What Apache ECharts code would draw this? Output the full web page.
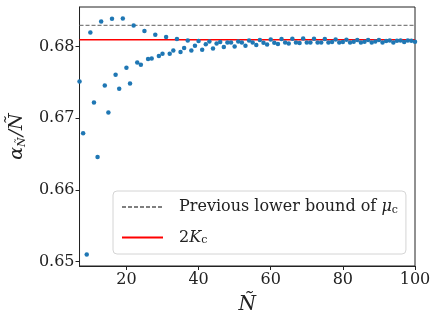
<!DOCTYPE html>
<html>
<head>
<meta charset="utf-8">
<script src="https://cdn.jsdelivr.net/npm/echarts@6/dist/echarts.min.js"></script>
<style>
  html, body { margin: 0; padding: 0; background: #fff; }
  #chart { width: 436px; height: 320px; }
</style>
</head>
<body>
<div id="chart"></div>
<script>
// N~ values 7..100 and the ratio alpha/N
const nValues = [];
for (let n = 7; n <= 100; n++) nValues.push(n);

const ratios = [
  0.6751, 0.6679, 0.6510, 0.68195, 0.6722, 0.6646, 0.68349, 0.67456, 0.6708, 0.68386,
  0.67605, 0.6741, 0.68391, 0.67703, 0.67484, 0.68293, 0.67777, 0.67745, 0.68215, 0.67824,
  0.67833, 0.68163, 0.67866, 0.67898, 0.68131, 0.67898, 0.67944, 0.68103, 0.67922, 0.67978,
  0.68084, 0.67944, 0.6801, 0.68075, 0.67954, 0.68032, 0.6807, 0.67972, 0.68042, 0.68061,
  0.67992, 0.68056, 0.68056, 0.68, 0.6807, 0.68056, 0.6801, 0.68084, 0.68056, 0.68019,
  0.68089, 0.68052, 0.68028, 0.68098, 0.68052, 0.68033, 0.68103, 0.68056, 0.68042, 0.68107,
  0.68056, 0.68047, 0.68112, 0.68056, 0.68056, 0.68107, 0.68056, 0.68056, 0.68103, 0.68056,
  0.68061, 0.68098, 0.68056, 0.68061, 0.68093, 0.68056, 0.68065, 0.68089, 0.68056, 0.68065,
  0.68089, 0.68056, 0.6807, 0.68089, 0.68056, 0.68075, 0.68084, 0.68056, 0.68079, 0.68084,
  0.68061, 0.68084, 0.68079, 0.68065
];

const prevBound = 0.68293;
const twoKc = 0.68093;
const xTicks = [20, 40, 60, 80, 100];
const yTicks = [0.65, 0.66, 0.67, 0.68];

const FONT = 'DejaVu Serif';
const INK = '#222';
const chart = echarts.init(document.getElementById('chart'));

chart.setOption({
  animation: false,
  grid: {
    left: 76, right: 21, top: 7, bottom: 54,
    show: true, borderColor: INK, borderWidth: 1
  },
  xAxis: {
    type: 'value',
    min: 7,
    max: 100,
    name: 'Ñ',
    nameLocation: 'middle',
    nameGap: 29,
    nameTextStyle: { fontFamily: FONT, fontStyle: 'italic', fontSize: 20, color: INK },
    axisLine: { show: true, onZero: false, lineStyle: { color: INK } },
    axisTick: { show: true, length: 4, customValues: xTicks, lineStyle: { color: INK } },
    axisLabel: { customValues: xTicks, fontFamily: FONT, fontSize: 16, color: INK, margin: 6 },
    splitLine: { show: false }
  },
  yAxis: {
    type: 'value',
    min: 0.6494,
    max: 0.6855,
    name: '{a|α}{s|Ñ}{a|/}{a|Ñ}',
    nameLocation: 'middle',
    nameRotate: 90,
    nameGap: 48,
    nameTextStyle: {
      color: INK,
      rich: {
        a: { fontFamily: FONT, fontStyle: 'italic', fontSize: 19, color: INK },
        s: { fontFamily: FONT, fontStyle: 'italic', fontSize: 11, color: INK, verticalAlign: 'bottom', padding: [10, 1, 0, 0] }
      }
    },
    axisLine: { show: true, lineStyle: { color: INK } },
    axisTick: { show: true, length: 4, customValues: yTicks, lineStyle: { color: INK } },
    axisLabel: {
      customValues: yTicks,
      fontFamily: FONT, fontSize: 16, color: INK, margin: 5,
      formatter: (v) => v.toFixed(2)
    },
    splitLine: { show: false }
  },
  legend: {
    orient: 'vertical',
    left: 113,
    top: 191,
    padding: [8, 8, 8, 8],
    itemGap: 14,
    itemWidth: 41,
    itemHeight: 14,
    itemStyle: { opacity: 0 },
    backgroundColor: 'rgba(255,255,255,0.8)',
    borderColor: '#d4d4d4',
    borderWidth: 1,
    borderRadius: 4,
    data: ['prev', 'kc'],
    formatter: (name) => name === 'prev'
      ? '{p|}{t|Previous lower bound of }{i|μ}{s|c}'
      : '{p|}{t|2}{i|K}{s|c}',
    textStyle: {
      color: INK,
      rich: {
        p: { width: 11 },
        t: { fontFamily: FONT, fontSize: 16, color: INK },
        i: { fontFamily: FONT, fontStyle: 'italic', fontSize: 16, color: INK },
        s: { fontFamily: FONT, fontSize: 11, color: INK, verticalAlign: 'bottom', padding: [6, 0, 0, 0] }
      }
    }
  },
  series: [
    {
      name: 'prev',
      type: 'line',
      symbol: 'none',
      data: [[7, prevBound], [100, prevBound]],
      lineStyle: { color: '#7f7f7f', width: 1.2, type: [4, 2] },
      itemStyle: { color: '#7f7f7f' },
      z: 1
    },
    {
      name: 'kc',
      type: 'line',
      symbol: 'none',
      data: [[7, twoKc], [100, twoKc]],
      lineStyle: { color: '#ff0000', width: 1.5 },
      itemStyle: { color: '#ff0000' },
      z: 2
    },
    {
      name: 'ratio',
      type: 'scatter',
      symbolSize: 4.5,
      data: nValues.map((n, i) => [n, ratios[i]]),
      itemStyle: { color: '#1f77b4', opacity: 1 },
      z: 3
    }
  ]
});
</script>
</body>
</html>
